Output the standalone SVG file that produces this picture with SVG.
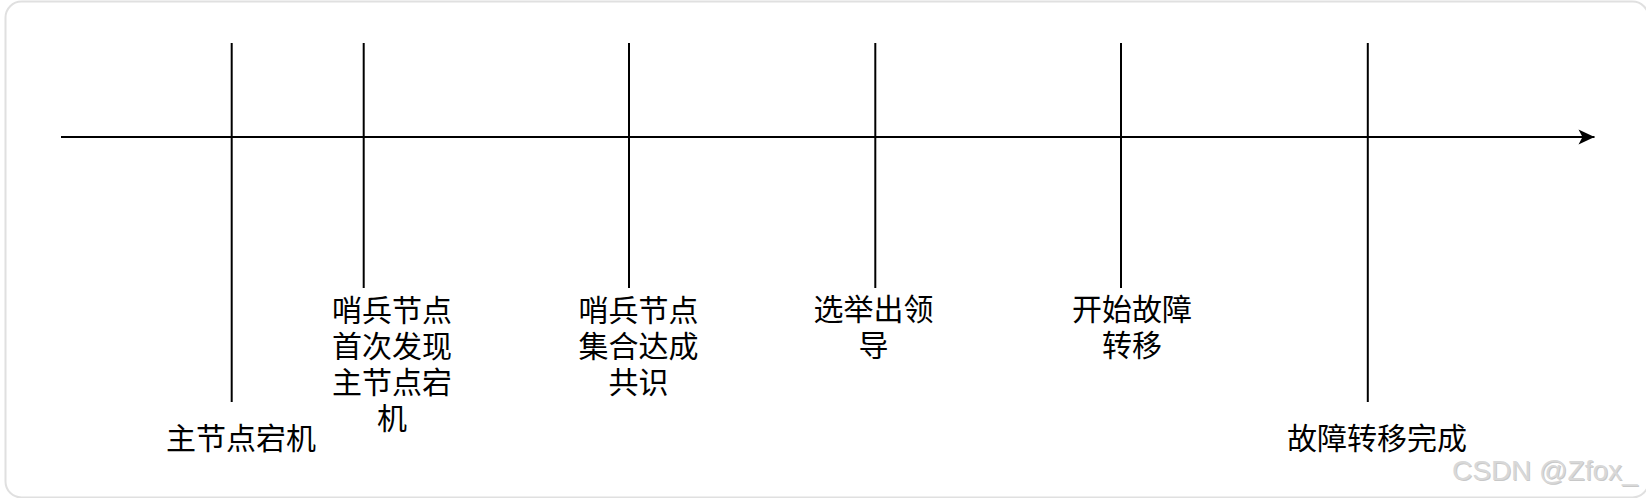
<svg xmlns="http://www.w3.org/2000/svg" width="1646" height="498" viewBox="0 0 1646 498">
<style>
.ln{stroke:#000;stroke-width:2;fill:none}
.lbl{font-family:"Noto Sans CJK SC","Noto Sans",sans-serif;font-size:30px;fill:#000;text-anchor:middle}
.wm{font-family:"Liberation Sans",Arial,sans-serif;font-size:28px}
</style>
<defs>
<marker id="arr" markerUnits="userSpaceOnUse" markerWidth="20" markerHeight="20" refX="17" refY="8" orient="auto" viewBox="0 0 20 16">
<path d="M17,8 L1,0.5 L5,8 L1,15.5 Z" fill="#000"/>
</marker>
</defs>
<rect x="5.5" y="1.5" width="1643" height="496" rx="16" fill="#fff" stroke="#e0e0e0" stroke-width="2"/>
<g id="connectors">
<line class="ln" x1="61" y1="137" x2="1594.5" y2="137" marker-end="url(#arr)"/>
</g>
<g id="n1"><line class="ln" x1="231.7" y1="43" x2="231.7" y2="402"/><text class="lbl" x="241" y="449">主节点宕机</text></g>
<g id="n2"><line class="ln" x1="363.7" y1="43" x2="363.7" y2="288"/><text class="lbl" x="392" y="321"><tspan x="392">哨兵节点</tspan><tspan x="392" dy="36">首次发现</tspan><tspan x="392" dy="36">主节点宕</tspan><tspan x="392" dy="36">机</tspan></text></g>
<g id="n3"><line class="ln" x1="629" y1="43" x2="629" y2="288"/><text class="lbl" x="638.5" y="321"><tspan x="638.5">哨兵节点</tspan><tspan x="638.5" dy="36">集合达成</tspan><tspan x="638.5" dy="36">共识</tspan></text></g>
<g id="n4"><line class="ln" x1="875.3" y1="43" x2="875.3" y2="288"/><text class="lbl" x="873.5" y="320"><tspan x="873.5">选举出领</tspan><tspan x="873.5" dy="36">导</tspan></text></g>
<g id="n5"><line class="ln" x1="1121" y1="43" x2="1121" y2="288"/><text class="lbl" x="1132" y="320"><tspan x="1132">开始故障</tspan><tspan x="1132" dy="36">转移</tspan></text></g>
<g id="n6"><line class="ln" x1="1367.8" y1="43" x2="1367.8" y2="402"/><text class="lbl" x="1377" y="449">故障转移完成</text></g>
<text class="wm" x="1453" y="481" fill="#c8c8c8">CSDN @Zfox_</text>
<text class="wm" x="1452" y="480" fill="#d8d8d8">CSDN @Zfox_</text>
</svg>
